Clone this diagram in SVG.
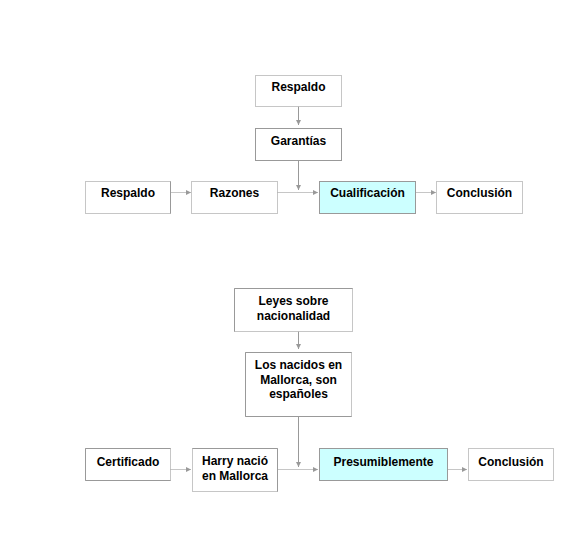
<svg xmlns="http://www.w3.org/2000/svg" width="567" height="556" viewBox="0 0 567 556">
<style>
.box{fill:#fff;stroke:#999;stroke-width:1}
.dot{fill:#fff;stroke:#8c8c8c;stroke-width:1;stroke-dasharray:1 1}
.hl{fill:#ccffff;stroke:#999;stroke-width:1}
.side{fill:none;stroke:#999;stroke-width:1}
.t{font-family:"Liberation Sans",Arial,sans-serif;font-weight:bold;font-size:12px;fill:#000;text-anchor:middle}
.c{fill:none;stroke:#999;stroke-width:1}
.cd{fill:none;stroke:#8c8c8c;stroke-width:1;stroke-dasharray:1 1}
</style>
<defs>
<marker id="ah" markerWidth="6" markerHeight="6" refX="5" refY="3" orient="auto" markerUnits="userSpaceOnUse">
<path d="M0,0.5 L5,3 L0,5.5 Z" fill="#999"/>
</marker>
</defs>
<rect width="567" height="556" fill="#fff"/>
<g id="connectors">
<line class="c" x1="298.5" y1="106.5" x2="298.5" y2="125" marker-end="url(#ah)"/>
<line class="c" x1="298.5" y1="160.5" x2="298.5" y2="190" marker-end="url(#ah)"/>
<line class="cd" x1="170.5" y1="192.5" x2="191" y2="192.5" marker-end="url(#ah)"/>
<line class="cd" x1="277.5" y1="192.5" x2="318" y2="192.5" marker-end="url(#ah)"/>
<line class="cd" x1="415.5" y1="192.5" x2="436" y2="192.5" marker-end="url(#ah)"/>
<line class="c" x1="298.5" y1="331.5" x2="298.5" y2="349" marker-end="url(#ah)"/>
<line class="c" x1="298.5" y1="416.5" x2="298.5" y2="467" marker-end="url(#ah)"/>
<line class="cd" x1="170.5" y1="469.5" x2="191" y2="469.5" marker-end="url(#ah)"/>
<line class="cd" x1="277.5" y1="469.5" x2="318" y2="469.5" marker-end="url(#ah)"/>
<line class="cd" x1="447.5" y1="469.5" x2="467" y2="469.5" marker-end="url(#ah)"/>
</g>
<g id="respaldo-top">
<rect class="dot" x="255.5" y="75.5" width="86" height="31"/>
<text class="t" x="298.5" y="91">Respaldo</text>
</g>
<g id="garantias">
<rect class="box" x="255.5" y="128.5" width="86" height="32"/>
<text class="t" x="298.5" y="145">Garantías</text>
</g>
<g id="respaldo-left">
<rect class="dot" x="85.5" y="181.5" width="85" height="32"/>
<path class="side" d="M170.5,181.5 V213.5"/>
<text class="t" x="128" y="197">Respaldo</text>
</g>
<g id="razones">
<rect class="dot" x="191.5" y="181.5" width="86" height="32"/>
<text class="t" x="234.5" y="197">Razones</text>
</g>
<g id="cualificacion">
<rect class="hl" x="319.5" y="181.5" width="96" height="32"/>
<text class="t" x="367.5" y="197">Cualificación</text>
</g>
<g id="conclusion-top">
<rect class="dot" x="436.5" y="181.5" width="86" height="32"/>
<text class="t" x="479.5" y="197">Conclusión</text>
</g>
<g id="leyes">
<rect class="dot" x="234.5" y="288.5" width="118" height="43"/>
<path class="side" d="M234.5,331.5 V288.5 H352.5"/>
<text class="t" x="293.5" y="305">Leyes sobre</text>
<text class="t" x="293.5" y="320">nacionalidad</text>
</g>
<g id="nacidos">
<rect class="dot" x="245.5" y="352.5" width="106" height="64"/>
<path class="side" d="M351.5,352.5 H245.5 V416.5 H351.5"/>
<text class="t" x="298.5" y="369">Los nacidos en</text>
<text class="t" x="298.5" y="383.5">Mallorca, son</text>
<text class="t" x="298.5" y="398">españoles</text>
</g>
<g id="certificado">
<rect class="dot" x="85.5" y="448.5" width="85" height="32"/>
<path class="side" d="M170.5,448.5 H85.5 V480.5 H170.5"/>
<text class="t" x="128" y="466">Certificado</text>
</g>
<g id="harry">
<rect class="dot" x="192.5" y="448.5" width="85" height="43"/>
<path class="side" d="M192.5,448.5 H277.5 V491.5"/>
<text class="t" x="235" y="465">Harry nació</text>
<text class="t" x="235" y="480">en Mallorca</text>
</g>
<g id="presumiblemente">
<rect class="hl" x="319.5" y="448.5" width="128" height="32"/>
<text class="t" x="383.5" y="466">Presumiblemente</text>
</g>
<g id="conclusion-bottom">
<rect class="dot" x="468.5" y="448.5" width="85" height="32"/>
<text class="t" x="511" y="466">Conclusión</text>
</g>
</svg>
